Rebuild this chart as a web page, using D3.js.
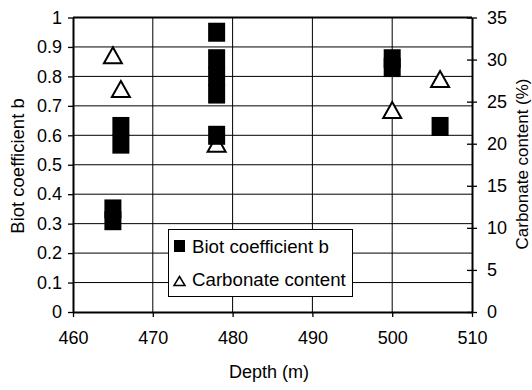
<!DOCTYPE html>
<html>
<head>
<meta charset="utf-8">
<script src="https://cdn.jsdelivr.net/npm/d3@7"></script>
<style>
  html, body { margin: 0; padding: 0; background: #fff; }
  svg { display: block; font-family: "Liberation Sans", Arial, sans-serif; }
</style>
</head>
<body>
<svg id="chart" width="532" height="390"></svg>
<script>
// Biot coefficient b vs depth
const biotDepth = [465, 465, 466, 466, 478, 478, 478, 478, 478, 500, 500, 506];
const biotValue = [0.35, 0.31, 0.63, 0.57, 0.95, 0.86, 0.80, 0.74, 0.60, 0.86, 0.83, 0.63];

// Carbonate content (%) vs depth
const carbDepth = [465, 466, 478, 500, 506];
const carbValue = [30.5, 26.5, 20, 24, 27.7];

// Axis ticks
const depthTicks = [460, 470, 480, 490, 500, 510];
const biotTicks = [0, 0.1, 0.2, 0.3, 0.4, 0.5, 0.6, 0.7, 0.8, 0.9, 1];
const carbTicks = [0, 5, 10, 15, 20, 25, 30, 35];

const svg = d3.select("#chart");
const plot = { left: 73, right: 472, top: 17.5, bottom: 312 };

const x = d3.scaleLinear().domain([460, 510]).range([plot.left, plot.right]);
const yL = d3.scaleLinear().domain([0, 1]).range([plot.bottom, plot.top]);
const yR = d3.scaleLinear().domain([0, 35]).range([plot.bottom, plot.top]);

const fontSize = 18;

// gridlines
const grid = svg.append("g").attr("stroke", "#000").attr("stroke-width", 1);
grid.selectAll(".h").data(biotTicks.slice(1)).join("line")
  .attr("x1", plot.left).attr("x2", plot.right)
  .attr("y1", d => yL(d)).attr("y2", d => yL(d));
grid.selectAll(".v").data(depthTicks.slice(1, -1)).join("line")
  .attr("y1", plot.top).attr("y2", plot.bottom)
  .attr("x1", d => x(d)).attr("x2", d => x(d));

// frame top line
svg.append("line").attr("x1", plot.left).attr("x2", plot.right)
  .attr("y1", plot.top).attr("y2", plot.top)
  .attr("stroke", "#000").attr("stroke-width", 2);

function styleAxis(g) {
  g.select(".domain").attr("stroke", "#000").attr("stroke-width", 2);
  g.selectAll(".tick line").attr("stroke", "#000").attr("stroke-width", 1.3);
  g.selectAll(".tick text").attr("fill", "#000")
    .attr("font-size", fontSize).attr("font-family", "Liberation Sans, Arial, sans-serif");
}

// bottom axis
const gx = svg.append("g").attr("transform", `translate(0,${plot.bottom})`)
  .call(d3.axisBottom(x).tickValues(depthTicks).tickFormat(d3.format("d"))
    .tickSizeInner(5).tickSizeOuter(0).tickPadding(14));
styleAxis(gx);

// left axis
const gl = svg.append("g").attr("transform", `translate(${plot.left},0)`)
  .call(d3.axisLeft(yL).tickValues(biotTicks).tickFormat(d => String(+d.toFixed(1)))
    .tickSizeInner(5).tickSizeOuter(0).tickPadding(6));
styleAxis(gl);

// right axis (crossing ticks)
const gr = svg.append("g").attr("transform", `translate(${plot.right},0)`)
  .call(d3.axisRight(yR).tickValues(carbTicks).tickFormat(d3.format("d"))
    .tickSizeInner(5).tickSizeOuter(0).tickPadding(10));
styleAxis(gr);
gr.selectAll(".tick line").attr("x1", -5);

// axis titles
svg.append("text").attr("x", 269).attr("y", 378).attr("text-anchor", "middle")
  .attr("font-size", fontSize).text("Depth (m)");
svg.append("text").attr("transform", `translate(24,166) rotate(-90)`)
  .attr("text-anchor", "middle").attr("font-size", fontSize + 0.5).text("Biot coefficient b");
svg.append("text").attr("transform", `translate(528,164) rotate(-90)`)
  .attr("text-anchor", "middle").attr("font-size", fontSize - 1).text("Carbonate content (%)");

// markers
function triPath(cx, cy, w, h) {
  return `M${cx},${cy - h / 2}L${cx + w / 2},${cy + h / 2}L${cx - w / 2},${cy + h / 2}Z`;
}

const carb = carbDepth.map((d, i) => ({ d, v: carbValue[i] }));
svg.append("g").selectAll("path").data(carb).join("path")
  .attr("d", p => triPath(x(p.d), yR(p.v), 18, 16))
  .attr("fill", "#fff").attr("stroke", "#000").attr("stroke-width", 2);

const biot = biotDepth.map((d, i) => ({ d, v: biotValue[i] }));
const bw = 17, bh = 19;
svg.append("g").selectAll("rect").data(biot).join("rect")
  .attr("x", p => x(p.d) - bw / 2).attr("y", p => yL(p.v) - bh / 2)
  .attr("width", bw).attr("height", bh).attr("fill", "#000");

// legend
const lg = svg.append("g");
lg.append("rect").attr("x", 168.5).attr("y", 229.5).attr("width", 184).attr("height", 67)
  .attr("fill", "#fff").attr("stroke", "#000").attr("stroke-width", 1);
lg.append("rect").attr("x", 174).attr("y", 240).attr("width", 11).attr("height", 12).attr("fill", "#000");
lg.append("path").attr("d", triPath(179.5, 281, 11, 9))
  .attr("fill", "#fff").attr("stroke", "#000").attr("stroke-width", 1.5);
lg.append("text").attr("x", 192).attr("y", 253).attr("font-size", 18.7).text("Biot coefficient b");
lg.append("text").attr("x", 192).attr("y", 286).attr("font-size", 18.7).text("Carbonate content");
</script>
</body>
</html>
